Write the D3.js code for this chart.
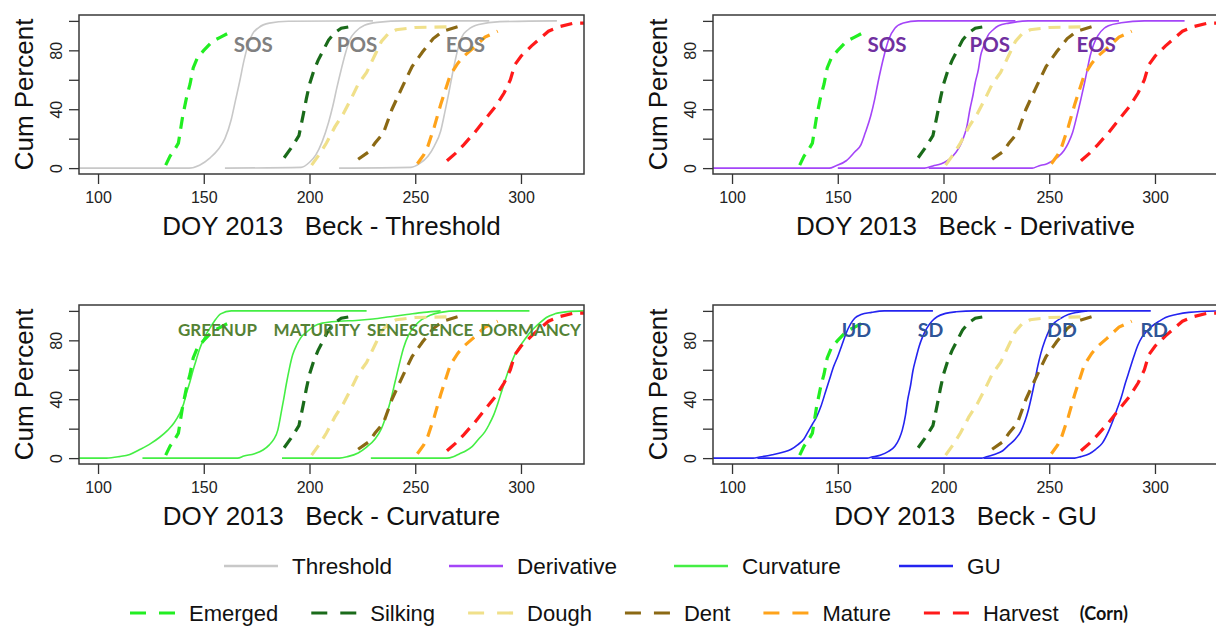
<!DOCTYPE html>
<html>
<head>
<meta charset="utf-8">
<script src="https://cdn.jsdelivr.net/npm/d3@7"></script>
<style>
body { margin: 0; background: #fff; }
svg { display: block; font-family: "Liberation Sans", Arial, sans-serif; }
</style>
</head>
<body>
<svg width="1216" height="626"></svg>
<script>
// observed corn stages, cumulative percent by day of year
var emerged = [[132,2],[134,8],[136,12],[138,17],[139,26],[140,35],[142,49],[143.5,57],[145,68],[147,75],[150,80],[154,86],[158,89],[162,92]];
var silking = [[188,7],[191,13],[195,22],[197,36],[198.5,47],[200,57],[202,66],[204,73],[206.5,80],[209,87],[212,92],[215,95],[219,96]];
var dough = [[201,2],[205,10],[208,17],[212,28],[216,37],[220,48],[223,57],[227,65],[231,77],[234,86],[237,91],[241,94],[250,95.5],[265,96]];
var dent = [[223,6],[228,11],[231,17],[235,24],[239,40],[243.5,54],[248.5,69],[253.5,79],[258.5,88],[263,93],[270,96]];
var mature = [[251,3],[254,9],[256,15],[259,28],[262,43],[264,52],[266.5,63],[270,71],[273,76],[277,81],[283,89],[289,93]];
var harvest = [[265,5],[269,10],[273,16],[278,24],[283,33],[288,42],[292,51],[295,60],[297,70],[300,76],[305,83],[309,88],[313,93],[318,96],[325,98.5],[330,98.5]];

var stageNames = ["Emerged", "Silking", "Dough", "Dent", "Mature", "Harvest"];
var stageColors = ["#22ee22", "#1a6b1a", "#f0e08a", "#8b6914", "#ffa31a", "#ff1a1a"];
var stages = [emerged, silking, dough, dent, mature, harvest];

// fitted phenology curves for each method
var thresholdCurves = [
    [[91,0],[143,0],[148,2],[153,7],[157,13],[160,20],[163,33],[165,46],[167,59],[169,73],[171,84],[173,91],[176,95.5],[181,98.5],[190,99.8],[230,100]],
    [[160,0],[196,0.5],[200,4],[203,9],[206,18],[209,31],[211,42],[213,55],[215,67],[217,78],[219,87],[222,93],[226,97],[232,99],[245,100],[285,100]],
    [[214,0],[248,0.5],[252,3],[256,8],[259,15],[262,25],[264,38],[266,52],[268,67],[270,80],[272,89],[275,94],[280,97.5],[290,99.5],[317,100]]
];
var derivativeCurves = [
    [[91,0],[146,0],[149,1.5],[154,5],[158,11],[161,16],[163,24],[165.5,35],[167.5,47],[169,58],[170.5,68],[172,77],[174,87],[177,95],[181,98.5],[188,100],[234,100]],
    [[150,0],[191,0],[195,1.5],[199,3],[204,7.5],[207,13],[209,19],[211,28],[212.5,40],[214,50],[215,58],[216.5,67],[217.5,76],[219,83],[221,90],[223.5,94],[226,96.7],[231,98.5],[240,100],[283,100]],
    [[193,0],[242,0],[245,1.5],[249,3],[254,7.5],[257,12],[259,17],[261,24],[263,35],[265,47],[266.7,58],[268,67],[269.3,76],[271,84],[273,90],[276,95],[278,96.7],[284,98.7],[295,100],[314,100]]
];
var curvatureCurves = [
    [[91,0],[104,0],[110,1],[115,2.5],[120,6],[125,10],[129,14],[133,19],[136,24],[138.5,30],[140.5,37],[142,45],[143.5,52],[145,60],[146.7,68],[148,74],[149.7,80],[151.5,85],[153,88.5],[155,93],[158,98],[163,100],[227,100]],
    [[121,0],[166,0],[169,1.4],[174,3],[178,5.5],[181,9],[183,12.5],[185,19],[186,26],[187,34],[187.8,40],[189,50],[190.5,61],[192,70],[194,77],[196,82],[199,86],[202,89.5],[206,91.7],[214,93],[222,93.5],[230,94.5],[238,96],[246,97.5],[254,99],[262,100]],
    [[187,0],[214,0],[218,1],[223,3.5],[227,7.5],[231,13],[234,20],[236.5,30],[238.5,40],[240.5,52],[242.5,64],[244.5,75],[247,84],[250,90],[253,94],[257,97],[262,99],[270,100],[304,100]],
    [[229,0],[265,0],[268,1],[271,3],[274,5],[277,8],[280,13],[283,18],[285,23],[287,29],[289,37],[291,46],[293,55],[295,63],[297,70],[299,75],[301,79],[303.5,84],[306,88],[309,92],[312,95.5],[316,98],[322,99.5],[330,100]]
];
var guCurves = [
    [[91,0],[110,0],[113,0.7],[119,2.3],[124,4],[128,6],[131,9],[134,13],[136,18],[138,23],[140,28],[142,35],[144,44],[146,53],[148,62],[150,69],[152,77],[154,85],[156,91],[158,95],[161,97.5],[166,99],[172,100],[195,100]],
    [[112,0],[164,0],[166,0.7],[170,2],[174,4.6],[177,8],[179,13],[180.5,19],[182,29],[183,39],[184.5,50],[185.5,59],[187,68],[188.5,76],[190,82],[192,88],[194.5,93],[197,96],[201,98.3],[206,99.4],[215,100],[298,100]],
    [[166,0],[218,0],[220,0.7],[224,2.5],[228,5],[231,9],[234,13],[236.5,18],[238.5,25],[240,32],[241.5,41],[243,51],[244.5,62],[246,71],[248,80],[250,87],[252.5,92],[255.5,95],[259,97.5],[263,99],[268,100]],
    [[219,0],[262,0],[265,1],[269,3],[272,6],[275,10],[278,18],[280,25],[282,33],[284,41],[286,51],[288,60],[290,69],[292,77],[294,82.5],[296,86],[298.5,89.5],[302,93],[305,95.5],[310,97.5],[316,99],[330,100]]
];

var methodNames = ["Threshold", "Derivative", "Curvature", "GU"];
var methodColors = ["#c8c8c8", "#a445f8", "#44ee44", "#2424f0"];

// phase labels written on each panel
var thresholdLabels = ["SOS", "POS", "EOS"];
var thresholdLabelDoy = [173.4, 222.5, 273.7];
var derivativeLabels = ["SOS", "POS", "EOS"];
var derivativeLabelDoy = [173.3, 221.9, 272.2];
var curvatureLabels = ["GREENUP", "MATURITY", "SENESCENCE", "DORMANCY"];
var curvatureLabelDoy = [156.5, 203.5, 252.3, 304.6];
var guLabels = ["UD", "SD", "DD", "RD"];
var guLabelDoy = [158.8, 193.9, 256, 299.6];

var xTicks = [100, 150, 200, 250, 300];
var yTicks = [0, 20, 40, 60, 80, 100];
var yTickLabels = [0, 40, 80];

var svg = d3.select("svg");
var panelW = 505, panelH = 159;

var x = d3.scaleLinear().domain([91, 329.8]).range([0, panelW]);
var y = d3.scaleLinear().domain([-4, 104]).range([panelH, 0]);

var panels = [
    {left: 79, top: 15, curves: thresholdCurves, color: methodColors[0], labels: thresholdLabels, labelDoy: thresholdLabelDoy,
        labelPct: 84, labelColor: "#808080", labelSize: 20.5, title: "Beck - Threshold"},
    {left: 713, top: 15, curves: derivativeCurves, color: methodColors[1], labels: derivativeLabels, labelDoy: derivativeLabelDoy,
        labelPct: 84, labelColor: "#7030a0", labelSize: 20.5, title: "Beck - Derivative"},
    {left: 79, top: 305, curves: curvatureCurves, color: methodColors[2], labels: curvatureLabels, labelDoy: curvatureLabelDoy,
        labelPct: 87, labelColor: "#548235", labelSize: 17, title: "Beck - Curvature"},
    {left: 713, top: 305, curves: guCurves, color: methodColors[3], labels: guLabels, labelDoy: guLabelDoy,
        labelPct: 87, labelColor: "#2f5597", labelSize: 19.5, title: "Beck - GU"}
];

var smooth = d3.line()
    .x(function(d) { return x(d[0]); })
    .y(function(d) { return y(d[1]); })
    .curve(d3.curveMonotoneX);

var straight = d3.line()
    .x(function(d) { return x(d[0]); })
    .y(function(d) { return y(d[1]); });

panels.forEach(function(p, i) {
    var g = svg.append("g").attr("transform", "translate(" + p.left + "," + p.top + ")");

    g.append("clipPath").attr("id", "clip" + i)
        .append("rect").attr("width", panelW).attr("height", panelH);

    var plot = g.append("g").attr("clip-path", "url(#clip" + i + ")");

    plot.selectAll("path.model")
        .data(p.curves)
        .enter()
        .append("path")
        .attr("class", "model")
        .attr("d", smooth)
        .attr("fill", "none")
        .attr("stroke", p.color)
        .attr("stroke-width", 1.6);

    plot.selectAll("path.stage")
        .data(stages)
        .enter()
        .append("path")
        .attr("class", "stage")
        .attr("d", straight)
        .attr("fill", "none")
        .attr("stroke", function(d, j) { return stageColors[j]; })
        .attr("stroke-width", 3.2)
        .attr("stroke-dasharray", "12,8");

    plot.selectAll("text.phase")
        .data(p.labels)
        .enter()
        .append("text")
        .attr("class", "phase")
        .attr("x", function(d, j) { return x(p.labelDoy[j]); })
        .attr("y", y(p.labelPct))
        .attr("dy", "0.36em")
        .attr("text-anchor", "middle")
        .style("font-family", "Lato, 'Open Sans', sans-serif")
        .style("font-weight", "bold")
        .style("font-size", p.labelSize + "px")
        .attr("fill", p.labelColor)
        .text(function(d) { return d; });

    // frame
    g.append("rect")
        .attr("width", panelW)
        .attr("height", panelH)
        .attr("fill", "none")
        .attr("stroke", "#3a3a3a")
        .attr("stroke-width", 1.5);

    var xAxis = g.append("g")
        .attr("transform", "translate(0," + panelH + ")")
        .call(d3.axisBottom(x).tickValues(xTicks).tickSize(10).tickSizeOuter(0));
    xAxis.select(".domain").remove();
    xAxis.selectAll("line").attr("stroke", "#333").attr("stroke-width", 1.3);
    xAxis.selectAll("text")
        .attr("y", 29)
        .attr("dy", 0)
        .attr("fill", "#222")
        .style("font-size", "16px")
        .style("font-family", "'Liberation Sans', Arial, sans-serif");

    var yAxis = g.append("g")
        .call(d3.axisLeft(y).tickValues(yTicks).tickSize(10).tickSizeOuter(0)
            .tickFormat(function(d) { return yTickLabels.indexOf(d) >= 0 ? d : ""; }));
    yAxis.select(".domain").remove();
    yAxis.selectAll("line").attr("stroke", "#333").attr("stroke-width", 1.3);
    yAxis.selectAll("text")
        .attr("transform", "rotate(-90)")
        .attr("x", 0)
        .attr("y", -17)
        .attr("dy", 0)
        .attr("text-anchor", "middle")
        .attr("fill", "#222")
        .style("font-size", "16px")
        .style("font-family", "'Liberation Sans', Arial, sans-serif");

    g.append("text")
        .attr("x", panelW / 2)
        .attr("y", panelH + 61)
        .attr("text-anchor", "middle")
        .style("font-size", "26px")
        .style("white-space", "pre")
        .attr("fill", "#111")
        .text("DOY 2013   " + p.title);

    g.append("text")
        .attr("transform", "translate(-46," + (panelH / 2) + ") rotate(-90)")
        .attr("text-anchor", "middle")
        .style("font-size", "26px")
        .attr("fill", "#111")
        .text("Cum Percent");
});

// legend, row 1: methods
var legend1 = svg.append("g").attr("transform", "translate(224,566)");
var item1 = legend1.selectAll("g")
    .data(methodNames)
    .enter()
    .append("g")
    .attr("transform", function(d, i) { return "translate(" + (i * 225) + ",0)"; });
item1.append("line")
    .attr("x1", 0).attr("x2", 54)
    .attr("stroke", function(d, i) { return methodColors[i]; })
    .attr("stroke-width", 2.5);
item1.append("text")
    .attr("x", 68)
    .attr("y", 8)
    .style("font-size", "22.5px")
    .attr("fill", "#111")
    .text(function(d) { return d; });

// legend, row 2: corn stages, laid out by text width
var legend2 = svg.append("g").attr("transform", "translate(130,613)");
var cursor = 0;
stageNames.forEach(function(name, i) {
    var it = legend2.append("g").attr("transform", "translate(" + cursor + ",0)");
    it.append("line")
        .attr("x1", 0).attr("x2", 45)
        .attr("stroke", stageColors[i])
        .attr("stroke-width", 3.2)
        .attr("stroke-dasharray", "16,13");
    var t = it.append("text")
        .attr("x", 59)
        .attr("y", 8)
        .style("font-size", "22px")
        .attr("fill", "#111")
        .text(name);
    cursor += 59 + t.node().getComputedTextLength() + 33;
});
legend2.append("text")
    .attr("x", cursor - 12)
    .attr("y", 7)
    .style("font-family", "Lato, sans-serif")
    .style("font-weight", "bold")
    .style("font-size", "18px")
    .attr("fill", "#111")
    .text("(Corn)");
</script>
</body>
</html>
